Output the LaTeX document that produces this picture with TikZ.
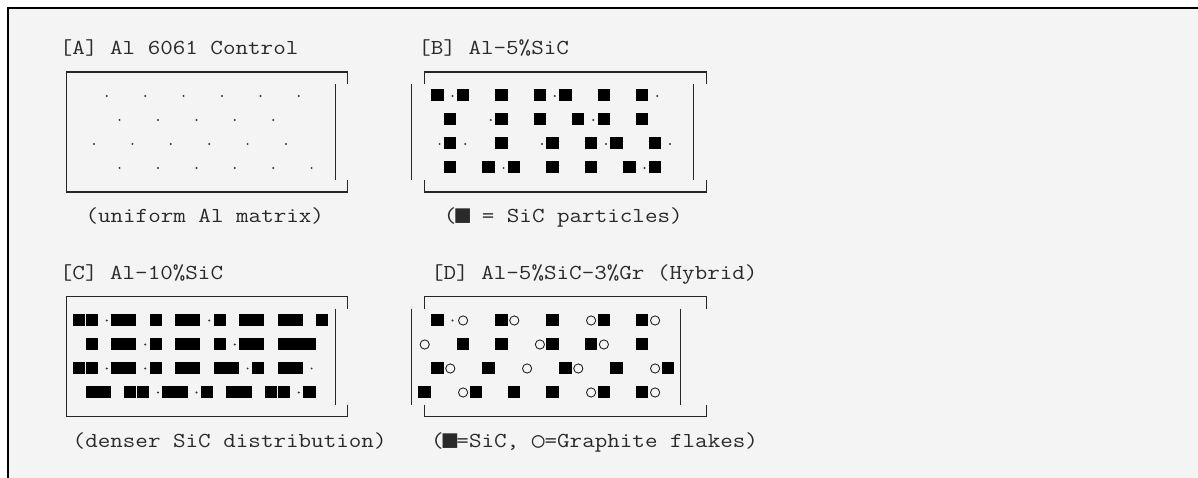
\documentclass[tikz,border=0pt]{standalone}
\usepackage{fontspec}
\usepackage{graphicx}
\newfontfamily\codefont{Latin Modern Mono}[FakeStretch=1.143]
\newfontfamily\symfont{DejaVu Sans Mono}
\definecolor{codebg}{HTML}{F4F4F4}
\definecolor{ink}{HTML}{2A2A2A}
\newcommand\Sq{\makebox[12.8pt][c]{\symfont\fontsize{24.5}{24}\selectfont ■}}
\newcommand\Ci{\makebox[12.8pt][c]{\symfont ○}}
\frenchspacing
\tikzset{
  boxline/.style={draw=black!85, line width=1.1pt},
  sic/.style={fill=black},
  grdot/.style={fill=black!80},
  gr/.style={draw=black!85, line width=0.9pt},
  txt/.style={anchor=base west, inner sep=0pt, outer sep=0pt, text=ink,
    font=\codefont\fontsize{21.33}{24}\selectfont},
}
\begin{document}
\begin{tikzpicture}[x=1pt,y=-1pt]
\useasboundingbox (0,0) rectangle (1198,478);
\fill[white] (0,0) rectangle (1198,478);
\fill[codebg] (9,9) rectangle (1198,478);
\draw[line width=2.3pt] (7.85,478) -- (7.85,7.85) -- (1198,7.85);

\begin{scope}[xshift=72.7pt, x=12.8pt]
% ---------- texts ----------
\node[txt] (tA) at (-1,54.5) {[A] Al 6061 Control};
\node[txt] (tB) at (27,54.5) {[B] Al-5\%SiC};
\node[txt] (lA) at (1,222.5) {(uniform Al matrix)};
\node[txt] (lB) at (29,222.5) {(\Sq{} = SiC particles)};
\node[txt] (tC) at (-1,279) {[C] Al-10\%SiC};
\node[txt] (tD) at (28,279) {[D] Al-5\%SiC-3\%Gr (Hybrid)};
\node[txt] (lC) at (0,447) {(denser SiC distribution)};
\node[txt] (lD) at (28,447) {(\Sq{}=SiC, \Ci{}=Graphite flakes)};

% ---------- box A ----------
\draw[boxline] (-0.5,192) -- (-0.5,72) -- (21.5,72) -- (21.5,84);
\draw[boxline] (20.5,84) -- (20.5,180);
\draw[boxline] (21.5,180) -- (21.5,192) -- (-0.5,192);
\foreach \c in {2,5,8,11,14,17} \fill[grdot] (\c+0.664,96) circle[radius=1.1pt];
\foreach \c in {3,6,9,12,15} \fill[grdot] (\c+0.664,120) circle[radius=1.1pt];
\foreach \c in {1,4,7,10,13,16} \fill[grdot] (\c+0.664,144) circle[radius=1.1pt];
\foreach \c in {3,6,9,12,15,18} \fill[grdot] (\c+0.664,168) circle[radius=1.1pt];

% ---------- box B ----------
\draw[boxline] (27.5,84) -- (27.5,72) -- (49.5,72) -- (49.5,84);
\draw[boxline] (26.5,84) -- (26.5,180);
\draw[boxline] (48.5,84) -- (48.5,180);
\draw[boxline] (27.5,180) -- (27.5,192) -- (49.5,192) -- (49.5,180);
\foreach \c in {28,30,33,36,38,41,44} \fill[sic] (\c,89) rectangle ++(0.977,12.5);
\foreach \c in {29,37,45} \fill[grdot] (\c+0.664,96) circle[radius=1.1pt];
\foreach \c in {29,33,36,39,41,44} \fill[sic] (\c,113) rectangle ++(0.977,12.5);
\foreach \c in {32,40} \fill[grdot] (\c+0.664,120) circle[radius=1.1pt];
\foreach \c in {29,33,37,40,42,45} \fill[sic] (\c,137) rectangle ++(0.977,12.5);
\foreach \c in {28,30,36,41,46} \fill[grdot] (\c+0.664,144) circle[radius=1.1pt];
\foreach \c in {29,32,34,37,40,43,45} \fill[sic] (\c,161) rectangle ++(0.977,12.5);
\foreach \c in {33,44} \fill[grdot] (\c+0.664,168) circle[radius=1.1pt];

% ---------- box C ----------
\draw[boxline] (-0.5,416.5) -- (-0.5,296.5) -- (21.5,296.5) -- (21.5,308.5);
\draw[boxline] (20.5,308.5) -- (20.5,404.5);
\draw[boxline] (21.5,404.5) -- (21.5,416.5) -- (-0.5,416.5);
\foreach \c in {0,1,3,4,6,8,9,11,13,14,16,17,19} \fill[sic] (\c,313.5) rectangle ++(0.977,12.5);
\foreach \c in {2,10} \fill[grdot] (\c+0.664,320.5) circle[radius=1.1pt];
\foreach \c in {1,3,4,6,8,9,11,13,14,16,17,18} \fill[sic] (\c,337.5) rectangle ++(0.977,12.5);
\foreach \c in {5,12} \fill[grdot] (\c+0.664,344.5) circle[radius=1.1pt];
\foreach \c in {0,1,3,4,6,8,9,11,12,14,16,17} \fill[sic] (\c,361.5) rectangle ++(0.977,12.5);
\foreach \c in {2,5,13,18} \fill[grdot] (\c+0.664,368.5) circle[radius=1.1pt];
\foreach \c in {1,2,4,5,7,8,10,12,13,15,16,18} \fill[sic] (\c,385.5) rectangle ++(0.977,12.5);
\foreach \c in {6,9,17} \fill[grdot] (\c+0.664,392.5) circle[radius=1.1pt];

% ---------- box D ----------
\draw[boxline] (27.5,308.5) -- (27.5,296.5) -- (49.5,296.5) -- (49.5,308.5);
\draw[boxline] (26.5,308.5) -- (26.5,404.5);
\draw[boxline] (47.5,308.5) -- (47.5,404.5);
\draw[boxline] (27.5,404.5) -- (27.5,416.5) -- (49.5,416.5) -- (49.5,404.5);
\foreach \c in {28,33,37,41,44} \fill[sic] (\c,313.5) rectangle ++(0.977,12.5);
\foreach \c in {29} \fill[grdot] (\c+0.664,320.5) circle[radius=1.1pt];
\foreach \c in {30,34,40,45} \draw[gr] (\c+0.5,320.5) circle[radius=4.6pt];
\foreach \c in {30,33,37,40,44} \fill[sic] (\c,337.5) rectangle ++(0.977,12.5);
\foreach \c in {27,36,41} \draw[gr] (\c+0.5,344.5) circle[radius=4.6pt];
\foreach \c in {28,32,38,42,46} \fill[sic] (\c,361.5) rectangle ++(0.977,12.5);
\foreach \c in {29,35,39,45} \draw[gr] (\c+0.5,368.5) circle[radius=4.6pt];
\foreach \c in {27,31,34,37,41,44} \fill[sic] (\c,385.5) rectangle ++(0.977,12.5);
\foreach \c in {30,40,45} \draw[gr] (\c+0.5,392.5) circle[radius=4.6pt];
\end{scope}
\end{tikzpicture}
\end{document}
